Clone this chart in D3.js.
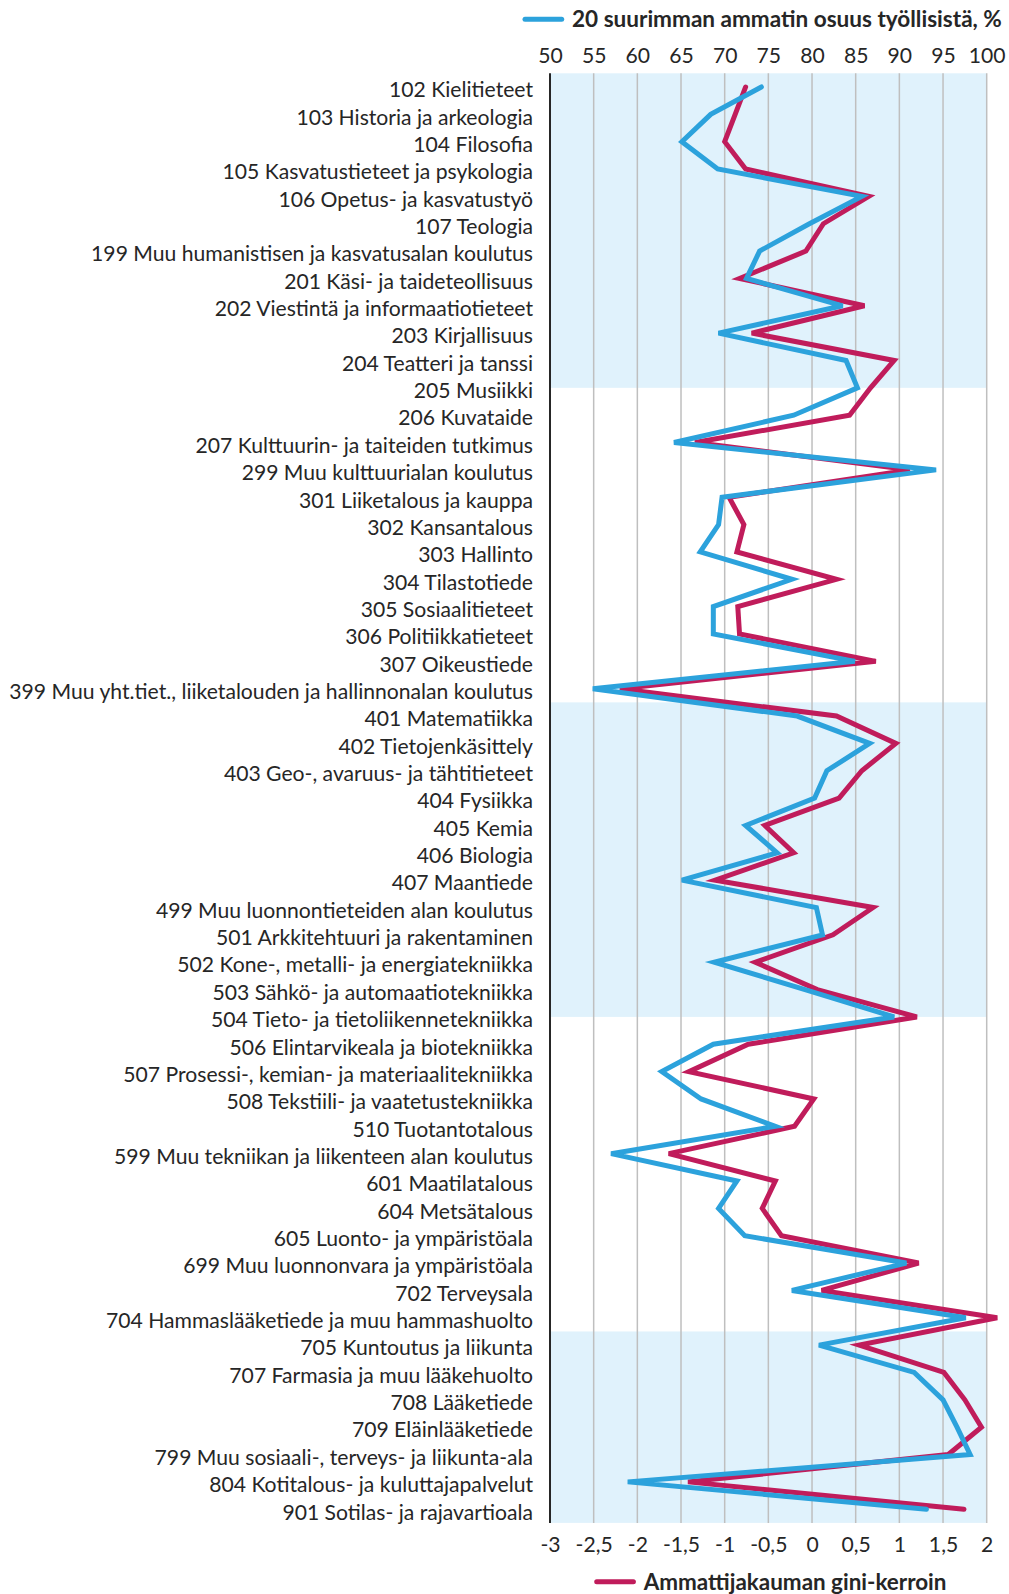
<!DOCTYPE html>
<html>
<head>
<meta charset="utf-8">
<script src="https://cdnjs.cloudflare.com/ajax/libs/d3/7.8.5/d3.min.js"></script>
<style>
  html, body { margin: 0; padding: 0; background: #ffffff; }
  svg text { font-family: Lato, "Open Sans", sans-serif; fill: #262626; }
</style>
</head>
<body>
<svg id="chart" width="1009" height="1594"></svg>
<script>
// Koulutusalat (rivit ylhäältä alas)
const categories = [
  "102 Kielitieteet",
  "103 Historia ja arkeologia",
  "104 Filosofia",
  "105 Kasvatustieteet ja psykologia",
  "106 Opetus- ja kasvatustyö",
  "107 Teologia",
  "199 Muu humanistisen ja kasvatusalan koulutus",
  "201 Käsi- ja taideteollisuus",
  "202 Viestintä ja informaatiotieteet",
  "203 Kirjallisuus",
  "204 Teatteri ja tanssi",
  "205 Musiikki",
  "206 Kuvataide",
  "207 Kulttuurin- ja taiteiden tutkimus",
  "299 Muu kulttuurialan koulutus",
  "301 Liiketalous ja kauppa",
  "302 Kansantalous",
  "303 Hallinto",
  "304 Tilastotiede",
  "305 Sosiaalitieteet",
  "306 Politiikkatieteet",
  "307 Oikeustiede",
  "399 Muu yht.tiet., liiketalouden ja hallinnonalan koulutus",
  "401 Matematiikka",
  "402 Tietojenkäsittely",
  "403 Geo-, avaruus- ja tähtitieteet",
  "404 Fysiikka",
  "405 Kemia",
  "406 Biologia",
  "407 Maantiede",
  "499 Muu luonnontieteiden alan koulutus",
  "501 Arkkitehtuuri ja rakentaminen",
  "502 Kone-, metalli- ja energiatekniikka",
  "503 Sähkö- ja automaatiotekniikka",
  "504 Tieto- ja tietoliikennetekniikka",
  "506 Elintarvikeala ja biotekniikka",
  "507 Prosessi-, kemian- ja materiaalitekniikka",
  "508 Tekstiili- ja vaatetustekniikka",
  "510 Tuotantotalous",
  "599 Muu tekniikan ja liikenteen alan koulutus",
  "601 Maatilatalous",
  "604 Metsätalous",
  "605 Luonto- ja ympäristöala",
  "699 Muu luonnonvara ja ympäristöala",
  "702 Terveysala",
  "704 Hammaslääketiede ja muu hammashuolto",
  "705 Kuntoutus ja liikunta",
  "707 Farmasia ja muu lääkehuolto",
  "708 Lääketiede",
  "709 Eläinlääketiede",
  "799 Muu sosiaali-, terveys- ja liikunta-ala",
  "804 Kotitalous- ja kuluttajapalvelut",
  "901 Sotilas- ja rajavartioala"
];

// 20 suurimman ammatin osuus työllisistä, %
const top20Share = [
  74.2, 68.4, 65.1, 69.2, 85.7, 79.7, 74.0, 72.5, 83.5, 69.3,
  83.9, 85.2, 77.9, 64.2, 94.2, 69.7, 69.3, 67.2, 77.7, 68.7,
  68.7, 84.9, 54.9, 78.3, 86.6, 81.7, 80.3, 72.4, 76.0, 65.1,
  80.5, 81.2, 68.8, 79.2, 89.4, 68.7, 62.8, 67.3, 75.8, 57.0,
  71.4, 69.3, 72.3, 90.8, 77.7, 97.6, 80.8, 91.7, 95.0, 96.6,
  98.1, 58.9, 93.1
];

// Ammattijakauman gini-kerroin
const giniCoef = [
  -0.76, -0.88, -1.00, -0.76, 0.65, 0.13, -0.07, -0.83, 0.60, -0.69,
  0.94, 0.67, 0.43, -1.34, 1.12, -0.95, -0.78, -0.86, 0.28, -0.85,
  -0.83, 0.73, -2.20, 0.28, 0.96, 0.57, 0.31, -0.54, -0.21, -1.11,
  0.70, 0.24, -0.65, 0.06, 1.20, -0.73, -1.41, 0.02, -0.20, -1.64,
  -0.42, -0.57, -0.35, 1.22, 0.11, 2.12, 0.54, 1.51, 1.75, 1.94,
  1.56, -1.42, 1.74
];

// Akselien jakoviivat
const topTicks = [50, 55, 60, 65, 70, 75, 80, 85, 90, 95, 100];
const bottomTicks = [-3, -2.5, -2, -1.5, -1, -0.5, 0, 0.5, 1, 1.5, 2];

// Taustavärillä korostetut alaryhmät (ensimmäinen ja viimeinen rivi)
const shadedGroups = [
  ["102 Kielitieteet", "205 Musiikki"],
  ["401 Matematiikka", "504 Tieto- ja tietoliikennetekniikka"],
  ["705 Kuntoutus ja liikunta", "901 Sotilas- ja rajavartioala"]
];

const seriesNames = {
  share: "20 suurimman ammatin osuus työllisistä, %",
  gini: "Ammattijakauman gini-kerroin"
};

const colors = { share: "#2ca2dc", gini: "#c01c5b", shade: "#e0f2fc", grid: "#bfbfbf", axis: "#262626" };

const plot = { left: 550, right: 986.7, top: 73.3, bottom: 1522.9 };

const svg = d3.select("#chart");

const xShare = d3.scaleLinear().domain([50, 100]).range([plot.left, plot.right]);
const xGini = d3.scaleLinear().domain([-3, 2]).range([plot.left, plot.right]);
const y = d3.scaleBand().domain(categories).range([plot.top, plot.bottom]).paddingInner(0).paddingOuter(0);
const bw = y.bandwidth();
const cy = d => y(d) + bw / 2;

const fi = d3.formatLocale({ decimal: ",", thousands: " ", grouping: [3], currency: ["", "€"], minus: "-" });
const fmtGini = fi.format(",~g");

// Taustakorostukset: alaryhmä alkaa ensimmäisen rivin yläreunasta ja päättyy
// viimeisen rivin keskelle (paitsi viimeinen ryhmä, joka ulottuu akselille).
const shadeG = svg.append("g");
shadedGroups.forEach(([a, b]) => {
  const y0 = y(a);
  const y1 = b === categories[categories.length - 1] ? plot.bottom : cy(b);
  shadeG.append("rect")
    .attr("x", plot.left).attr("width", plot.right - plot.left)
    .attr("y", y0).attr("height", y1 - y0)
    .attr("fill", colors.shade);
});

// Pystysuorat apuviivat
svg.append("g").selectAll("line").data(topTicks.slice(1)).join("line")
  .attr("x1", d => xShare(d)).attr("x2", d => xShare(d))
  .attr("y1", plot.top).attr("y2", plot.bottom)
  .attr("stroke", colors.grid).attr("stroke-width", 1.5);

// Vasen akseliviiva
svg.append("line")
  .attr("x1", plot.left).attr("x2", plot.left)
  .attr("y1", plot.top).attr("y2", plot.bottom)
  .attr("stroke", colors.axis).attr("stroke-width", 2);

// Fonttikoko sovitetaan pisimmän rivinimen leveyteen
function measure(str, size, weight) {
  const t = svg.append("text").attr("font-size", size).attr("font-weight", weight || "normal").text(str);
  const w = t.node().getComputedTextLength();
  t.remove();
  return w;
}
const longest = categories.reduce((a, b) => b.length > a.length ? b : a);
const labelSize = 20 * 524 / measure(longest, 20);

// Rivinimet
const yAxis = svg.append("g")
  .attr("transform", `translate(${plot.left},0)`)
  .call(d3.axisLeft(y).tickSize(0).tickPadding(17));
yAxis.select(".domain").remove();
yAxis.selectAll("text").attr("font-size", labelSize).attr("font-family", null).attr("fill", "#262626").attr("y", 3.5);

// Yläakseli
const topAxis = svg.append("g")
  .attr("transform", `translate(0,${plot.top})`)
  .call(d3.axisTop(xShare).tickValues(topTicks).tickSize(0).tickPadding(10).tickFormat(d3.format("d")));
topAxis.select(".domain").remove();
topAxis.selectAll("text").attr("font-size", labelSize).attr("font-family", null).attr("fill", "#262626");

// Ala-akseli
const botAxis = svg.append("g")
  .attr("transform", `translate(0,${plot.bottom})`)
  .call(d3.axisBottom(xGini).tickValues(bottomTicks).tickSize(0).tickPadding(14).tickFormat(fmtGini));
botAxis.select(".domain").remove();
botAxis.selectAll("text").attr("font-size", labelSize).attr("font-family", null).attr("fill", "#262626");

// Viivat
const lineGini = d3.line().x(d => xGini(d.v)).y(d => cy(d.c));
const lineShare = d3.line().x(d => xShare(d.v)).y(d => cy(d.c));

svg.append("path")
  .datum(categories.map((c, i) => ({ c, v: giniCoef[i] })))
  .attr("d", lineGini)
  .attr("fill", "none").attr("stroke", colors.gini).attr("stroke-width", 5)
  .attr("stroke-linejoin", "miter").attr("stroke-miterlimit", 4).attr("stroke-linecap", "round");

svg.append("path")
  .datum(categories.map((c, i) => ({ c, v: top20Share[i] })))
  .attr("d", lineShare)
  .attr("fill", "none").attr("stroke", colors.share).attr("stroke-width", 5)
  .attr("stroke-linejoin", "miter").attr("stroke-miterlimit", 4).attr("stroke-linecap", "round");

// Selitteet
function legend(xLine, yMid, color, label, width) {
  const g = svg.append("g");
  g.append("line")
    .attr("x1", xLine).attr("x2", xLine + 36.7)
    .attr("y1", yMid).attr("y2", yMid)
    .attr("stroke", color).attr("stroke-width", 5).attr("stroke-linecap", "round");
  const size = 21 * width / measure(label, 21, "bold");
  g.append("text")
    .attr("x", xLine + 47).attr("y", yMid)
    .attr("dy", "0.35em")
    .attr("font-size", size).attr("font-weight", "bold")
    .text(label);
}
legend(525, 19.3, colors.share, seriesNames.share, 430);
legend(596.7, 1581.7, colors.gini, seriesNames.gini, 303);
</script>
</body>
</html>
